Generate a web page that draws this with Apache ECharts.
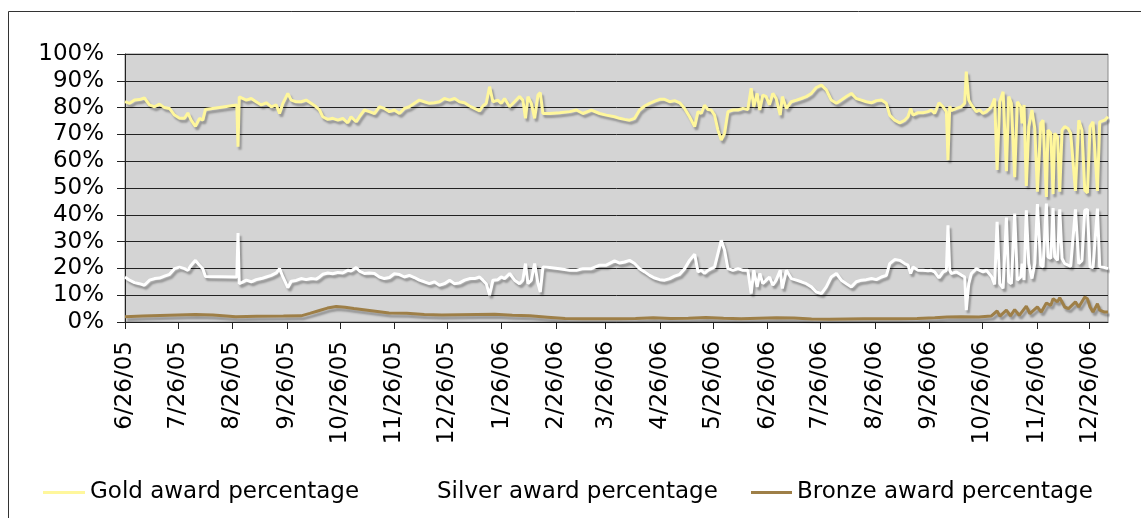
<!DOCTYPE html>
<html><head><meta charset="utf-8">
<script src="https://cdn.jsdelivr.net/npm/echarts@6/dist/echarts.min.js"></script>
<style>html,body{margin:0;padding:0;background:#fff}#c{width:1141px;height:518px}</style>
</head><body><div id="c"></div>
<script>
// Tick labels on the date axis (Excel-style monthly ticks on the 26th)
const tickLabels = ['6/26/05','7/26/05','8/26/05','9/26/05','10/26/05','11/26/05','12/26/05',
  '1/26/06','2/26/06','3/26/06','4/26/06','5/26/06','6/26/06','7/26/06','8/26/06','9/26/06',
  '10/26/06','11/26/06','12/26/06'];
// Day offsets (days since 6/26/05) of the gold / silver readings
const days = [
  0,2.6,5.4,8.2,11,13.9,16.8,19.6,22.4,25.3,28.1,31,33.8,35.7,37.6,40,42.3,44.2,45.7,63.5,64.2,64.9,66.5,68.9,71.7,74.5,77.4,80.2,83.1,85.9,87.8,89.7,
  92.5,94.4,97.2,100,102.9,105.7,108.6,110.5,112.3,115.2,118,120.9,123.7,126.5,128.4,131.3,133.2,136,138.8,141.7,144.5,147.3,150.2,153,155.9,158.7,161.5,164.4,167.2,170,172.9,175.7,178.6,181.4,
  184.4,187.2,190,192.9,195.7,198.6,201.4,203.3,205.2,207.1,209,211.8,213.7,215.6,218.5,221.3,224.1,226,227.5,228.9,230.8,232.7,234.6,235.9,237.4,241.2,246.9,252.6,256.4,260.1,264.9,269.6,273.4,
  278.1,281,283.8,286.6,289.5,292.3,295.2,298,300.9,303.7,306.5,309.4,312.2,315.1,317.9,320.7,323.6,325.5,327.3,329.2,331.1,333,334.9,336.8,338.7,340.6,342.5,345.3,348.2,351,353.8,355.7,357.2,359.1,360.6,362.3,364.2,366.1,368,369.9,372.2,
  373.4,375.7,378.5,381.4,384.2,387,389.9,392.7,395.6,398.4,401.2,404.1,406.9,409.8,412.6,415.4,418.3,421.1,424,426.8,429.7,432.5,434.4,437.2,440.1,442.9,444.8,446.3,447.6,450.5,453.3,456.1,458,459.9,462.4,464.7,466.6,
  467.5,468.5,469.4,472.3,475.1,477,477.9,479.3,480.8,483.6,485.5,487.4,489.3,492.2,494,495.4,496.9,498.8,500.7,502,503.5,505.4,506.9,508.8,509.6,510.7,512,513.4,515.2,516.8,518.3,520.2,521.5,523.4,524.3,525.9,527.2,528.1,529.7,531,532.3,533.8,535.7,537.2,539.9,541.8,543.6,545.2,546.7,548.2,549.9,552.4,553.7,556.5,558.4
];
const gold = [
  82.2,81.6,82.8,83,83.6,81,80.3,81.3,80,79.7,77.2,76,76,78,75.3,73,76,75.3,79.3,81,65.4,84,83.5,82.8,83.4,82.2,81,81.8,80.3,81,77.8,81.6,
  85.3,82.8,82.2,82.2,82.8,81.6,80.3,79.1,76.6,75.6,76,75.3,76,74.3,76.6,74.7,76.6,79.1,78.5,77.8,80.3,79.7,78.5,79.1,77.8,79.7,80.3,81.6,82.8,82.2,81.6,81.8,82.2,83.4,
  82.8,83.4,82.2,81.8,80.6,79.7,78.8,80.6,81.6,87.8,82.2,82.8,81.6,83.4,80.3,82.2,84.1,82.8,76,84.1,81.6,76,84.7,85.6,77.8,77.8,78.1,78.5,79.1,77.8,79.1,77.8,77.2,
  76.6,76,75.6,75.3,76,79.1,80.6,81.6,82.4,83.1,83.1,82.2,82.6,81.8,79.7,76.6,72.9,78.5,77.8,80.9,79.3,79.1,77.2,71.6,67.9,70.4,78.5,79.1,79.1,79.7,79.3,87.2,80.3,85.3,79.1,84.7,84.1,81,85.3,83.4,77.2,
  84.1,79.7,82.2,82.8,83.4,84.1,85.3,87.5,88.4,86.6,82.8,81.6,82.8,84.1,85.3,83.4,82.8,82.2,81.8,82.6,82.8,81.6,77.2,75.3,74.3,75.3,76.6,79.7,77.2,78.1,78.1,78.5,79.1,77.8,81.8,80.3,78.5,
  60.4,80.5,78.9,79.7,80.3,81.6,93.4,82.8,81,78.5,79.1,77.8,78.5,80.3,83.4,56.7,82.2,85.9,56.3,84.1,81.6,54,82.2,80.3,74.1,81,50.8,72.9,79.1,72.2,48.6,74.1,75.3,46.7,71.6,70.4,47.7,70.4,69.1,48.6,71.6,72.9,72.2,70.4,48.9,75.3,71.6,49.2,48.2,72.9,74.7,48.9,74.7,75.3,76.6
];
const silver = [
  16.8,15.6,14.7,14.3,13.7,15.6,16.2,16.4,17.1,17.8,19.9,20.5,19.9,19.3,21.2,23,21.2,19.9,17,16.8,33.2,14.3,14.8,15.6,15,15.8,16.2,16.8,17.4,18.3,19.9,16.8,
  12.8,15.2,15.5,16.2,15.8,16.2,16,16.8,17.8,18.3,18,18.5,18.3,19.3,19,20.3,19,18.1,18.3,18.1,16.8,16.2,16.6,18,17.7,16.8,17.4,16.6,15.6,15,14.3,15,13.7,14.3,
  15.6,14.3,14.6,15.6,16.2,16.2,16.8,15.6,14.3,10,15.6,15.8,16.8,16.2,18.1,15.6,14.3,15.6,21.8,14.3,15.6,21.8,14.3,11.2,20.5,20.3,19.9,19.3,19.3,19.9,19.9,21.2,21.2,
  22.8,22,22.4,23,21.8,19.9,18.7,17.4,16.4,15.8,15.6,16.2,17.1,17.8,19.9,23,25.3,18.7,19.3,18.1,19.3,19.9,20.5,25.5,30.5,26.8,19.9,19.3,19.9,19.3,19.3,10.6,19.3,13.1,18.1,14.3,15.6,16.8,13.7,15.6,19.3,
  12.5,19.3,16.2,15.6,15,14.3,13.1,11.2,10.6,13.1,16.8,18.1,15.6,14.3,13.1,15,15.6,15.8,16.2,15.8,16.8,17.4,21.8,23.3,23,21.8,21.2,18.1,20.5,19.3,19.3,19.1,19.3,18.7,16.5,18.7,19.3,
  36.1,19.3,18.1,18.7,17.5,16.8,4.4,14.3,18.1,19.9,19.3,18.7,19.3,17,14,37.4,14.3,12.5,39,15,14.3,40.5,15.6,16.8,21.8,15.6,41.7,21.8,16.2,21.8,44,21.2,20.5,44.2,24.3,23.7,42.5,24.3,23,42,23.7,21.8,21.2,20.8,42,21.8,23,41.7,42,20.5,20.3,42.3,20.5,20.3,19.9
];
const bronzeDays = [0,10,20,30,40,50,63,75,90,100,105,110,115,120,125,130,140,150,160,170,180,190,200,210,220,230,240,250,260,270,280,290,300,310,320,330,340,350,360,370,380,390,400,410,420,430,440,450,460,467,475,485,492,
  495.4,497,500.7,503,505.4,508,512,514,518.3,520.5,523.4,525.9,527.2,529.7,531,533.8,536,539.9,541.8,545.2,546.7,548.2,549.9,552.4,553.7,556.5,558.4];
const bronze = [2.0,2.2,2.4,2.6,2.8,2.6,2.0,2.1,2.2,2.3,3.2,4.2,5.2,5.8,5.5,5.0,4.2,3.4,3.3,2.8,2.6,2.7,2.8,2.9,2.5,2.3,1.8,1.3,1.2,1.2,1.2,1.3,1.6,1.3,1.4,1.7,1.4,1.2,1.4,1.6,1.5,1.1,1.0,1.1,1.2,1.2,1.2,1.3,1.6,1.9,2.0,1.9,2.2,
  4.1,2.2,4.4,2.3,4.6,2.5,5.9,3.1,5.6,3.7,7.1,6.2,8.7,7.5,9.1,5.6,5.0,7.5,5.6,9.3,8.7,5.6,3.7,6.8,4.4,3.7,3.7];
const axisEndDay = 558.4;

const startUTC = Date.UTC(2005, 5, 26);
function dayOf(label) {
  const p = label.split('/').map(Number);
  return Math.round((Date.UTC(2000 + p[2], p[0] - 1, p[1]) - startUTC) / 86400000);
}
const tickDays = tickLabels.map(dayOf);
const pairs = (xs, ys) => xs.map((x, i) => [x, ys[i]]);
const FONT = 'DejaVu Sans';
function lineSeries(name, color, data) {
  return {
    name, type: 'line', data, color, showSymbol: false, symbol: 'none',
    lineStyle: { width: 3, color, shadowColor: 'rgba(0,0,0,0.3)', shadowBlur: 2, shadowOffsetX: 2, shadowOffsetY: 3 },
    emphasis: { disabled: true }
  };
}
const legendBase = { icon: 'rect', itemWidth: 42, itemHeight: 3, top: 476, selectedMode: false,
  textStyle: { fontFamily: FONT, fontSize: 23, color: '#000' } };

const chart = echarts.init(document.getElementById('c'), null, { renderer: 'canvas' });
chart.setOption({
  animation: false,
  backgroundColor: '#fff',
  graphic: [{ type: 'rect', silent: true, z: 100, shape: { x: 8.5, y: 11.5, width: 1300, height: 700 },
    style: { fill: 'none', stroke: '#333', lineWidth: 1 } }],
  grid: { left: 125, right: 33, top: 54, bottom: 196, show: true, backgroundColor: '#d4d4d4',
    borderColor: '#8a8a8a', borderWidth: 1 },
  legend: [
    Object.assign({}, legendBase, { left: 38, data: ['Gold award percentage'] }),
    Object.assign({}, legendBase, { left: 385, data: ['Silver award percentage'] }),
    Object.assign({}, legendBase, { left: 746, itemWidth: 41, data: ['Bronze award percentage'] })
  ],
  xAxis: {
    type: 'value', min: 0, max: axisEndDay,
    axisLine: { show: true, onZero: false, lineStyle: { color: '#222', width: 1 } },
    axisTick: { show: true, length: 7, customValues: tickDays, lineStyle: { color: '#222' } },
    axisLabel: { customValues: tickDays, rotate: 90, margin: 19, fontFamily: FONT, fontSize: 23, color: '#000',
      formatter: v => { const i = tickDays.indexOf(Math.round(v)); return i >= 0 ? tickLabels[i] : ''; } },
    splitLine: { show: false }
  },
  yAxis: {
    type: 'value', min: 0, max: 100, interval: 10,
    axisLine: { show: true, lineStyle: { color: '#222', width: 1 } },
    axisTick: { show: true, length: 8, lineStyle: { color: '#222' } },
    axisLabel: { formatter: '{value}%', margin: 21, fontFamily: FONT, fontSize: 23, color: '#000' },
    splitLine: { show: true, lineStyle: { color: '#222', width: 1 } }
  },
  series: [
    lineSeries('Gold award percentage', '#fff79c', pairs(days, gold)),
    lineSeries('Silver award percentage', '#ffffff', pairs(days, silver)),
    lineSeries('Bronze award percentage', '#9e7f47', pairs(bronzeDays, bronze))
  ]
});
</script></body></html>
